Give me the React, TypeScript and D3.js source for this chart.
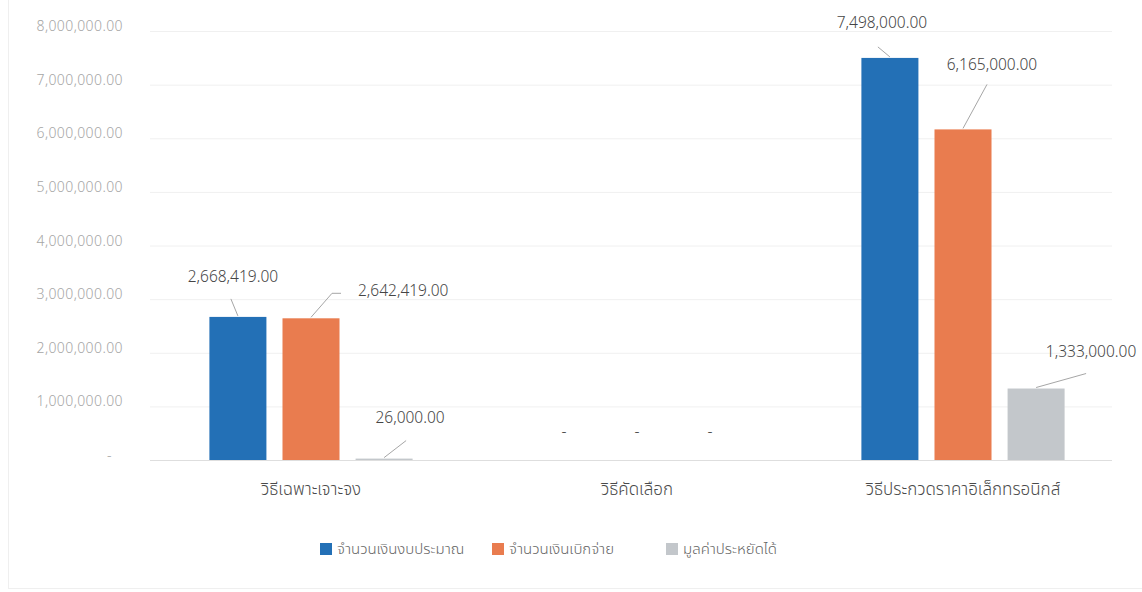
import React from "react";
import * as d3 from "d3";

const categories = ["วิธีเฉพาะเจาะจง", "วิธีคัดเลือก", "วิธีประกวดราคาอิเล็กทรอนิกส์"];
const seriesNames = ["จำนวนเงินงบประมาณ", "จำนวนเงินเบิกจ่าย", "มูลค่าประหยัดได้"];
const budget = [2668419, 0, 7498000];
const disbursed = [2642419, 0, 6165000];
const saved = [26000, 0, 1333000];
const yTicks = [0, 1000000, 2000000, 3000000, 4000000, 5000000, 6000000, 7000000, 8000000];

const seriesValues = [budget, disbursed, saved];
const colors = ["#2370b6", "#e97c4f", "#c3c7cb"];

// label layout: [dx, dy, leaderDx, leaderDy, anchor, elbowDx] relative to bar top centre
const labelLayout: [number, number, number, number, string, number][][] = [
  [
    [-5, -35, -7, -18, "middle", 0],
    [47, -22, 21, -25, "start", 9],
    [26, -36, 22, -18, "middle", 0],
  ],
  [
    [0, -23, 0, 0, "middle", 0],
    [0, -23, 0, 0, "middle", 0],
    [0, -23, 0, 0, "middle", 0],
  ],
  [
    [-8, -30, -12, -11, "middle", 0],
    [29, -59, 24, -45, "middle", 0],
    [55, -32, 50, -15, "middle", 0],
  ],
];

const W = 1142;
const H = 592;
const NUM_FONT = "'Noto Sans', 'Open Sans', sans-serif";
const THAI_FONT = "'Noto Sans Thai', 'Noto Sans Thai UI', 'Leelawadee UI', Tahoma, 'Noto Sans', sans-serif";

const fmt = d3.format(",.2f");
const label = (v: number) => (v === 0 ? "-" : fmt(v));

export default function App() {
  const x0 = d3.scaleBand<string>().domain(categories).range([148, 1126]).padding(0);
  const x1 = d3
    .scaleBand<string>()
    .domain(seriesNames)
    .range([0, x0.bandwidth()])
    .paddingInner(0.22)
    .paddingOuter(0.84);
  const y = d3.scaleLinear().domain([0, 8000000]).range([460, 31]);

  return (
    <svg
      width={W}
      height={H}
      style={{ position: "absolute", left: 0, top: 0, background: "#ffffff" }}
    >
      <rect x={8.5} y={-5} width={W + 10} height={593.5} fill="none" stroke="#efefef" />
      {yTicks.map((t) => (
        <g key={t}>
          <line
            x1={150}
            x2={1112}
            y1={y(t) + 0.5}
            y2={y(t) + 0.5}
            stroke={t === 0 ? "#dedede" : "#f0f0f0"}
            strokeWidth={1}
          />
          <text
            x={t === 0 ? 112 : 123}
            y={y(t)}
            textAnchor="end"
            fontFamily={NUM_FONT}
            fontSize={14}
            fontWeight={300}
            letterSpacing={0.4}
            fill="#a5a5a5"
          >
            {label(t)}
          </text>
        </g>
      ))}
      {categories.map((c, ci) => (
        <g key={c}>
          {seriesNames.map((s, si) => {
            const v = seriesValues[si][ci];
            const bx = (x0(c) as number) + (x1(s) as number);
            const bw = x1.bandwidth();
            const cx = bx + bw / 2;
            const top = y(v);
            const [dx, dy, lx, ly, anchor, elbow] = labelLayout[ci][si];
            return (
              <g key={s}>
                {v > 0 && (
                  <rect x={bx} y={top} width={bw} height={y(0) - top} fill={colors[si]} />
                )}
                {v > 0 && (
                  <polyline
                    points={`${cx},${top - 1} ${cx + lx},${top + ly}${
                      elbow ? ` ${cx + lx + elbow},${top + ly}` : ""
                    }`}
                    fill="none"
                    stroke="#a6a6a6"
                    strokeWidth={1}
                  />
                )}
                <text
                  x={cx + dx}
                  y={top + dy}
                  textAnchor={anchor as any}
                  fontFamily={NUM_FONT}
                  fontSize={15.5}
                  fontWeight={300}
                  fill="#454545"
                >
                  {label(v)}
                </text>
              </g>
            );
          })}
          <text
            x={(x0(c) as number) + x0.bandwidth() / 2}
            y={495}
            textAnchor="middle"
            fontFamily={THAI_FONT}
            fontSize={17}
            fontWeight={300}
            fill="#4a4a4a"
          >
            {c}
          </text>
        </g>
      ))}
      {seriesNames.map((s, si) => {
        const lx = [320, 492, 666][si];
        return (
          <g key={s}>
            <rect x={lx} y={543} width={12} height={12} fill={colors[si]} />
            <text
              x={lx + 17}
              y={554}
              fontFamily={THAI_FONT}
              fontSize={15}
              fontWeight={300}
              fill="#666666"
            >
              {s}
            </text>
          </g>
        );
      })}
    </svg>
  );
}
